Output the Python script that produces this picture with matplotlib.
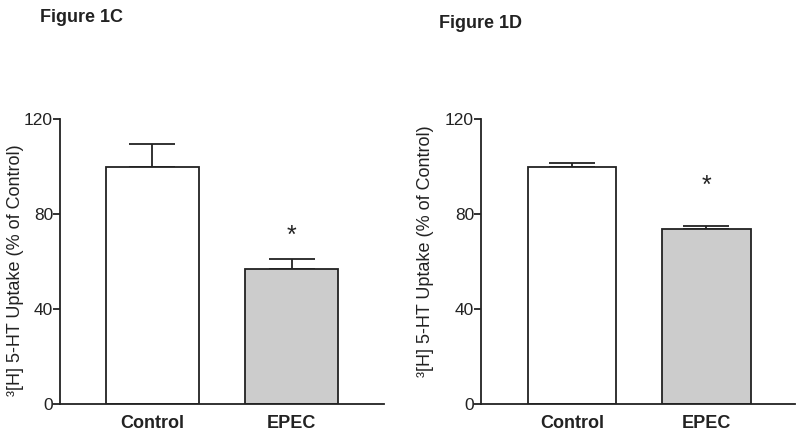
import matplotlib
matplotlib.use("Agg")
import matplotlib.pyplot as plt

plt.rcParams['font.family'] = ['Liberation Sans', 'DejaVu Sans']

categories = ["Control", "EPEC"]
c_values = [100, 56.7]
c_errors = [9.5, 4.3]
c_star = 71
d_values = [100, 73.5]
d_errors = [1.5, 1.5]
d_star = 92
yticks = [0, 40, 80, 120]
bar_colors = ["white", "#cccccc"]

fig = plt.figure(figsize=(8, 4.4), dpi=100)
axC = fig.add_axes([0.075, 0.0818, 0.405, 0.6477])
axD = fig.add_axes([0.60125, 0.0818, 0.3925, 0.6477])

def draw(ax, values, errors, star, width, xlim, title, title_xy, label_xy):
    x = list(range(len(categories)))
    ax.bar(x, values, width=width, color=bar_colors, edgecolor="#222222", linewidth=1.3, zorder=2)
    ax.errorbar(x, values, yerr=[[0] * len(errors), errors], fmt="none", ecolor="#222222",
                elinewidth=1.3, capsize=16.5, capthick=1.3, zorder=1)
    ax.text(1, star, "*", ha="center", va="center", fontsize=18, color="#222222")
    ax.set_xlim(*xlim)
    ax.set_ylim(0, 120)
    ax.set_yticks(yticks)
    ax.set_yticklabels([str(t) for t in yticks], fontsize=12.5, color="#222222")
    ax.set_xticks(x)
    ax.set_xticklabels(categories, fontsize=13, fontweight="bold", color="#222222")
    ax.tick_params(axis="x", length=0, pad=8)
    ax.tick_params(axis="y", length=5, width=1.3, pad=0, color="#222222")
    for s in ["top", "right"]:
        ax.spines[s].set_visible(False)
    for s in ["left", "bottom"]:
        ax.spines[s].set_linewidth(1.3)
        ax.spines[s].set_color("#222222")
    ax.set_ylabel("³[H] 5-HT Uptake (% of Control)", fontsize=13, color="#222222")
    ax.yaxis.set_label_coords(*label_xy)
    fig.text(title_xy[0], title_xy[1], title, fontsize=13, fontweight="bold", ha="left", va="center",
             color="#222222")

draw(axC, c_values, c_errors, c_star, 0.669, (-0.665, 1.665), "Figure 1C",
     (40 / 800, 1 - 17 / 440), (-0.112, 0.47))
draw(axD, d_values, d_errors, d_star, 0.664, (-0.679, 1.664), "Figure 1D",
     (439 / 800, 1 - 24 / 440), (-0.150, 0.537))

fig.savefig("out.png", dpi=100)
